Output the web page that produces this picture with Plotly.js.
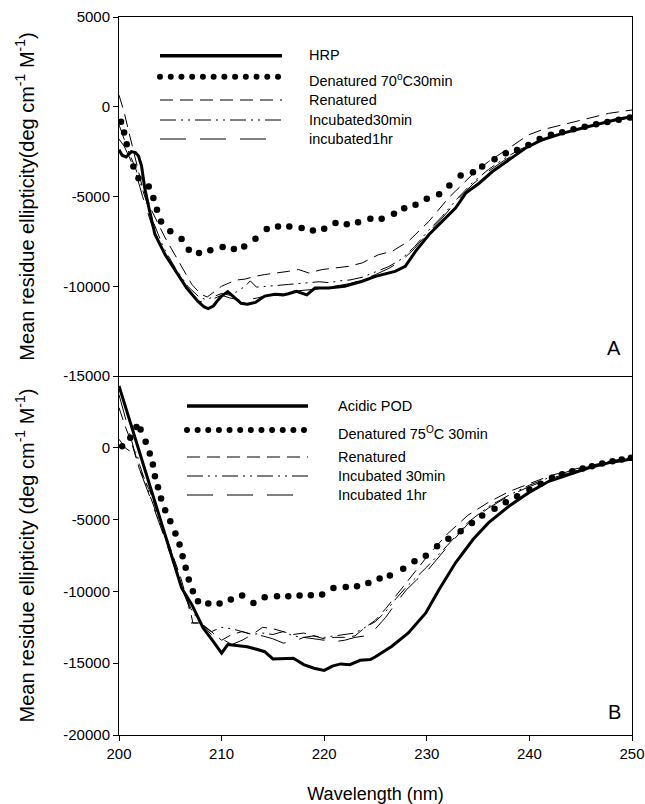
<!DOCTYPE html>
<html>
<head>
<meta charset="utf-8">
<script src="https://cdn.plot.ly/plotly-3.0.1.min.js"></script>
<style>html,body{margin:0;padding:0;background:#fff;}#chart{width:645px;height:804px;}</style>
</head>
<body>
<div id="chart"></div>
<script>
// ---------- Panel A (HRP) ----------
const hrpWl = [200,200.3,200.7,201.2,201.6,201.9,202.2,202.5,202.9,203.5,204.5,205.5,206.6,207.7,208.3,208.7,209.2,209.6,210.0,210.6,211.3,211.9,212.5,213.3,214.2,215.2,216.0,216.5,217.3,218.3,219.1,220.4,222.0,223.7,225.0,226.9,227.9,228.9,230.2,231.5,232.8,233.8,235.1,236.4,238.0,239.6,241.2,243.2,245.1,247.1,248.7,250];
const hrpVal = [-2400,-2700,-2800,-2500,-2550,-2750,-3300,-4500,-5600,-7100,-8250,-9150,-10100,-10850,-11150,-11250,-11100,-10800,-10550,-10300,-10650,-10950,-11000,-10900,-10550,-10450,-10480,-10420,-10280,-10480,-10100,-10100,-10000,-9720,-9450,-9170,-8890,-8060,-7130,-6390,-5640,-4810,-4260,-3610,-2960,-2310,-1850,-1480,-1200,-920,-680,-560];

const denAWl = [200.2,200.5,200.75,201.4,201.9,202.9,203.35,203.7,204.1,205.0,206.1,206.8,207.8,208.9,210.1,211.2,212.2,213.3,214.4,215.5,216.6,217.8,218.9,220.0,221.1,222.2,223.3,224.5,225.6,226.8,227.8,228.9,230.0,231.2,232.2,233.3,234.5,235.4,236.6,237.7,238.8,239.9,241.0,242.1,243.2,244.3,245.4,246.5,247.6,248.7,249.8];
const denAVal = [-830,-1440,-2090,-3330,-3980,-4440,-5090,-5740,-6390,-6940,-7370,-7960,-8150,-8000,-7810,-7920,-7780,-7350,-6810,-6670,-6670,-6760,-6890,-6800,-6480,-6540,-6440,-6240,-6240,-5960,-5650,-5460,-5130,-4870,-4390,-3830,-3650,-3330,-2930,-2590,-2410,-2130,-1800,-1560,-1420,-1260,-1110,-980,-850,-720,-600];

const renAWl = [200,200.5,201,201.5,202.2,203.2,204.5,205.8,207.1,208,208.6,209.3,210,210.8,211.5,212.3,213.3,214.2,215.5,216.5,217.5,218.5,219.8,221.4,222.4,223.7,225.3,226.6,228.2,230.2,232.1,234.4,236.0,238.0,239.9,241.2,243.2,245.8,247.7,250];
const renAVal = [650,-300,-1500,-2700,-4300,-5800,-7300,-8600,-9900,-10450,-10600,-10300,-10000,-9800,-9650,-9600,-9440,-9350,-9260,-9170,-9070,-9260,-9070,-8980,-8890,-8700,-8240,-8060,-7500,-6390,-5090,-3800,-3060,-2310,-1570,-1290,-1020,-640,-370,-180];

const inc30AWl = [200,200.5,201,201.6,202.3,203.2,204.3,205.5,206.7,207.8,208.5,209.3,210,210.8,211.5,212.3,212.8,213.4,214.2,215.5,216.5,217.5,218.5,219.5,220.5,221.5,222.5,223.7,225,226.3,227.5,228.8,230,231.5,233,234.5,236,237.5,239,240.5,242,244,246,248,250];
const inc30AVal = [-1000,-1800,-2600,-3400,-4600,-6200,-7800,-9000,-10000,-10600,-10750,-10550,-10400,-10500,-10300,-10000,-9700,-10050,-10000,-9950,-9900,-9850,-9800,-9750,-9800,-9700,-9650,-9500,-9200,-8900,-8500,-7800,-7000,-6100,-5100,-4200,-3500,-2900,-2400,-2000,-1650,-1350,-1050,-800,-600];

const inc1hAWl = [200,200.5,201,201.6,202.3,203.2,204.3,205.5,206.7,207.7,208.4,209.2,210,210.8,211.6,212.5,213.5,214.5,215.5,216.5,217.5,218.5,219.5,220.5,221.5,222.5,223.7,225,226.3,227.5,228.8,230,231.5,233,234.5,236,237.5,239,240.5,242,244,246,248,250];
const inc1hAVal = [-1800,-2200,-2800,-3600,-5000,-6600,-8000,-9200,-10200,-10800,-10950,-10700,-10500,-10650,-10750,-10750,-10650,-10500,-10400,-10300,-10250,-10200,-10150,-10050,-9950,-9850,-9650,-9350,-9000,-8600,-7900,-7100,-6200,-5200,-4300,-3600,-3000,-2500,-2050,-1700,-1350,-1050,-800,-600];

// ---------- Panel B (Acidic POD) ----------
const podWl = [200,206.1,207.1,208.2,209.2,210,210.6,211.5,212.5,213.5,214.2,215,216,217,218,219,220,220.8,221.6,222.5,223.5,224.5,225,226.6,228.2,229.9,231.2,232.8,234.5,236.0,238.0,239.9,241.9,243.8,245.8,247.7,250];
const podVal = [4300,-9760,-10920,-12540,-13500,-14300,-13700,-13750,-13850,-14050,-14200,-14700,-14650,-14650,-15100,-15350,-15500,-15200,-15050,-15100,-14800,-14750,-14550,-13820,-12890,-11500,-9870,-8010,-6390,-5230,-4070,-3140,-2330,-1860,-1390,-1050,-770];

const denBWl = [200.3,201.1,201.7,202.1,202.6,203.0,203.3,203.5,203.8,204.1,204.5,205.0,205.5,205.9,206.2,206.5,206.8,207.2,207.7,208.7,209.8,210.9,212.0,213.1,214.2,215.4,216.5,217.6,218.7,219.8,220.9,222.1,223.2,224.3,225.4,226.4,227.7,228.8,229.9,231.0,232.1,233.3,234.4,235.4,236.6,237.7,238.8,240.0,241.1,242.2,243.2,244.2,245.2,246.1,247.1,248.1,249.0,249.9];
const denBVal = [110,700,1440,1280,420,-400,-1160,-1980,-2740,-3530,-4350,-5120,-5970,-6740,-7550,-8360,-9180,-9990,-10690,-10850,-10850,-10570,-10290,-10800,-10410,-10340,-10340,-10290,-10270,-10220,-9760,-9690,-9640,-9410,-9110,-8900,-8430,-7900,-7510,-6860,-6340,-5810,-5230,-4720,-4250,-3790,-3370,-2900,-2500,-2090,-1850,-1630,-1450,-1280,-1100,-930,-810,-700];

const renBWl = [200,200.6,201.2,202,203,204,205,206,207,207.2,208,209,210,211,212,213,214,215,216,217,218,219,220,221,222,223,224,225,226,227,228,229,230,232,234,236,238,240,242,244,246,248,250];
const renBVal = [2800,1500,400,-1500,-3000,-5000,-7000,-9000,-11500,-12200,-12200,-12800,-13400,-13000,-12800,-13000,-12500,-12600,-12800,-13000,-12900,-13100,-13300,-13200,-13200,-13100,-12500,-12000,-11200,-10300,-9400,-8500,-7600,-6000,-4700,-3800,-3050,-2500,-1950,-1550,-1200,-900,-650];

const inc30BWl = [200,200.6,201,201.3,201.7,202,203,204,205,206,207,208,209,210,211,212,213,214,215,216,217,218,219,220,221,222,223,224,225,226,227,228,229,230,232,234,236,238,240,242,244,246,248,250];
const inc30BVal = [600,0,-200,-300,-300,-1160,-3300,-5200,-7200,-9400,-11200,-12300,-12800,-12500,-12600,-12800,-13000,-12900,-13000,-12800,-13100,-13200,-13100,-13200,-13100,-13000,-12900,-12500,-12100,-11400,-10500,-9700,-9000,-8300,-6800,-5200,-4100,-3300,-2600,-2050,-1600,-1250,-950,-700];

const inc1hBWl = [200,201,202,203,204,205,206,206.8,207,208,209,210,211,212,213,214,215,216,217,218,219,220,221,222,223,224,225,226,227,228,229,230,232,234,236,238,240,242,244,246,248,250];
const inc1hBVal = [3700,1000,-1500,-3400,-5400,-7400,-9600,-11000,-12200,-12200,-13000,-13300,-13700,-13400,-13000,-13100,-13300,-13600,-13500,-13200,-13300,-13400,-13500,-13400,-13200,-13100,-12600,-11800,-10800,-9900,-9200,-8600,-6900,-5300,-4200,-3350,-2700,-2150,-1700,-1300,-980,-680];

// tick labels
const xTicks = [200,210,220,230,240,250];
const yTicksA = [-15000,-10000,-5000,0,5000];
const yTicksB = [-20000,-15000,-10000,-5000,0];

const legendA = ["HRP","Denatured 70<sup>o</sup>C30min","Renatured","Incubated30min","incubated1hr"];
const legendB = ["Acidic POD","Denatured 75<sup>O</sup>C 30min","Renatured","Incubated 30min","Incubated 1hr"];

// ---------- styles ----------
const FONT = "Arial, 'Liberation Sans', sans-serif";
const dashRen = "13px,7px";
const dashI30 = "16px,5px,2px,5px,2px,5px";
const dashI1h = "26px,14px";

function lineTrace(x, y, xa, ya, width, dash){
  return {x:x, y:y, xaxis:xa, yaxis:ya, type:'scatter', mode:'lines',
          line:{color:'#000', width:width, dash:dash}, hoverinfo:'skip', showlegend:false};
}
function dotTrace(x, y, xa, ya){
  return {x:x, y:y, xaxis:xa, yaxis:ya, type:'scatter', mode:'markers',
          marker:{color:'#000', size:6.5}, hoverinfo:'skip', showlegend:false};
}

const traces = [
  lineTrace(renAWl, renAVal, 'x2','y',1,dashRen),
  lineTrace(inc30AWl, inc30AVal, 'x2','y',1,dashI30),
  lineTrace(inc1hAWl, inc1hAVal, 'x2','y',1,dashI1h),
  lineTrace(hrpWl, hrpVal, 'x2','y',3,'solid'),
  dotTrace(denAWl, denAVal, 'x2','y'),
  lineTrace(renBWl, renBVal, 'x','y2',1,dashRen),
  lineTrace(inc30BWl, inc30BVal, 'x','y2',1,dashI30),
  lineTrace(inc1hBWl, inc1hBVal, 'x','y2',1,dashI1h),
  lineTrace(podWl, podVal, 'x','y2',3,'solid'),
  dotTrace(denBWl, denBVal, 'x','y2')
];

// pixel -> paper helpers (plot area: x 119..632, y 17..735)
const L=119, R=632, T=17, B=735;
function px(x){return (x-L)/(R-L);}
function py(y){return (B-y)/(B-T);}

const shapes = [];
const annotations = [];
function legendBlock(x0, x1, rows, textRows, textX, labels){
  const styles = [['solid',3.5],[null,0],[dashRen,1],[dashI30,1],[dashI1h,1]];
  styles.forEach((s,i)=>{
    if(i===1){
      for(let k=0;k<12;k++){
        const cx = x0 + k*(x1-4-x0)/11;
        shapes.push({type:'circle', xref:'paper', yref:'paper',
          x0:px(cx-3), x1:px(cx+3), y0:py(rows[i]+3), y1:py(rows[i]-3),
          fillcolor:'#000', line:{width:0}});
      }
    } else {
      shapes.push({type:'line', xref:'paper', yref:'paper',
        x0:px(x0), x1:px(i===4? x1-12 : x1), y0:py(rows[i]), y1:py(rows[i]),
        line:{color:'#000', width:s[1], dash:s[0]}});
    }
    annotations.push({xref:'paper', yref:'paper', x:px(textX), y:py(textRows[i]),
      xanchor:'left', yanchor:'middle', showarrow:false, text:labels[i],
      font:{family:FONT, size:14.5, color:'#000'}});
  });
}
legendBlock(160, 282, [55.7,76.7,100,120,139], [55,80,100,120,139], 307, legendA);
legendBlock(187, 308, [406,430,457,476,495], [406,433,457,476,495], 336, legendB);

annotations.push({xref:'paper', yref:'paper', x:px(614), y:py(348), xanchor:'center', yanchor:'middle',
  showarrow:false, text:'A', font:{family:FONT, size:20, color:'#000'}});
annotations.push({xref:'paper', yref:'paper', x:px(614), y:py(712), xanchor:'center', yanchor:'middle',
  showarrow:false, text:'B', font:{family:FONT, size:20, color:'#000'}});

const tickFont = {family:FONT, size:15, color:'#000'};
const xTitleFont = {family:FONT, size:18, color:'#000'};
const yTitleFont = {family:FONT, size:20, color:'#000'};
const yTitleA = "Mean residue ellipticity(deg cm<sup>-1</sup> M<sup>-1</sup>)";
const yTitleB = "Mean residue ellipticity (deg cm<sup>-1</sup> M<sup>-1</sup>)";

const axisCommon = {showline:true, linecolor:'#000', linewidth:1, showgrid:false, zeroline:false,
  ticks:'outside', ticklen:5, tickwidth:1, tickcolor:'#000', tickfont:tickFont, automargin:false};

const layout = {
  width:645, height:804,
  margin:{l:L, r:645-R, t:T, b:804-B},
  paper_bgcolor:'#fff', plot_bgcolor:'#fff',
  showlegend:false,
  xaxis: Object.assign({}, axisCommon, {domain:[0,1], anchor:'y2', range:[200,250],
    tickmode:'array', tickvals:xTicks, ticktext:xTicks.map(String),
    title:{text:'Wavelength (nm)', font:xTitleFont, standoff:29}}),
  xaxis2: Object.assign({}, axisCommon, {domain:[0,1], anchor:'y', range:[200,250], matches:'x',
    showticklabels:false, ticks:'', mirror:true}),
  yaxis: Object.assign({}, axisCommon, {domain:[0.5,1], anchor:'x2', range:[-15000,5000], mirror:true,
    tickmode:'array', tickvals:yTicksA, ticktext:yTicksA.map(String),
    title:{text:yTitleA, font:yTitleFont, standoff:23}}),
  yaxis2: Object.assign({}, axisCommon, {domain:[0,0.5], anchor:'x', range:[-20000,5000], mirror:true,
    tickmode:'array', tickvals:yTicksB, ticktext:yTicksB.map(String),
    title:{text:yTitleB, font:yTitleFont, standoff:23}}),
  shapes:shapes,
  annotations:annotations
};

Plotly.newPlot('chart', traces, layout, {staticPlot:true, displayModeBar:false});
</script>
</body>
</html>
